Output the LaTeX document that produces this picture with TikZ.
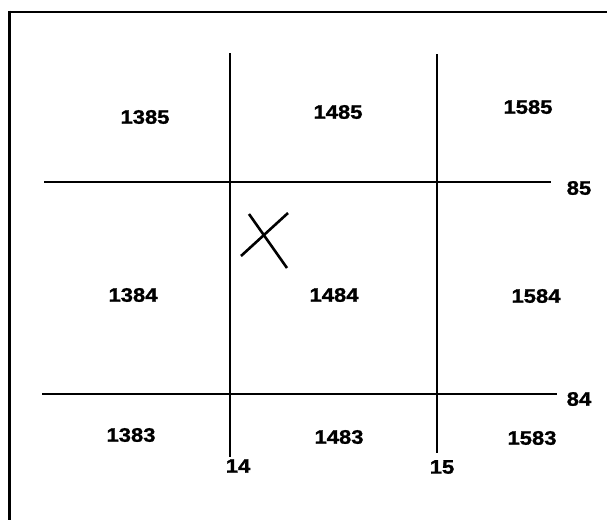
\documentclass[tikz,border=0pt]{standalone}
\usepackage{fontspec}
\setmainfont{Liberation Sans}
\newfontfamily\lblfont[FakeBold=1.2]{Liberation Sans Bold}
\begin{document}
\begin{tikzpicture}[x=1pt,y=-1pt,
  lbl/.style={font=\fontsize{19.5}{19.5}\lblfont, inner sep=0pt, xscale=1.13, transform shape},
  grid/.style={line width=2pt, line cap=butt},
  frame/.style={line width=2.6pt}]
\useasboundingbox (0,0) rectangle (607,520);
% frame (top and left)
\coordinate (ftr) at (607,12);
\coordinate (ftl) at (8.2,12);
\coordinate (fbl) at (9.5,520);
\coordinate (ftl2) at (9.5,10.7);
\draw[frame] (ftr) -- (ftl) (ftl2) -- (fbl);
% grid lines
\coordinate (v1t) at (229.5,53);
\coordinate (v1b) at (229.5,457);
\coordinate (v2t) at (437,54);
\coordinate (v2b) at (437,453);
\coordinate (h1l) at (44,182);
\coordinate (h1r) at (551,182);
\coordinate (h2l) at (42,394);
\coordinate (h2r) at (557,394);
\draw[grid] (v1t) -- (v1b);
\draw[grid] (v2t) -- (v2b);
\draw[grid] (h1l) -- (h1r);
\draw[grid] (h2l) -- (h2r);
% X mark
\coordinate (xa1) at (249,214);
\coordinate (xa2) at (287,268);
\coordinate (xb1) at (288,213);
\coordinate (xb2) at (241,256);
\draw[line width=2.6pt] (xa1) -- (xa2) (xb1) -- (xb2);
% cell labels
\node[lbl] (n1385) at (145,117) {1385};
\node[lbl] (n1485) at (338,112) {1485};
\node[lbl] (n1585) at (528,107) {1585};
\node[lbl] (n1384) at (133,295) {1384};
\node[lbl] (n1484) at (334,295) {1484};
\node[lbl] (n1584) at (536,296) {1584};
\node[lbl] (n1383) at (131,435) {1383};
\node[lbl] (n1483) at (339,437) {1483};
\node[lbl] (n1583) at (532,438) {1583};
% axis labels
\node[lbl] (n85) at (579,188) {85};
\node[lbl] (n84) at (579,399) {84};
\node[lbl] (n14) at (238,466) {14};
\node[lbl] (n15) at (442,467) {15};
\end{tikzpicture}
\end{document}
